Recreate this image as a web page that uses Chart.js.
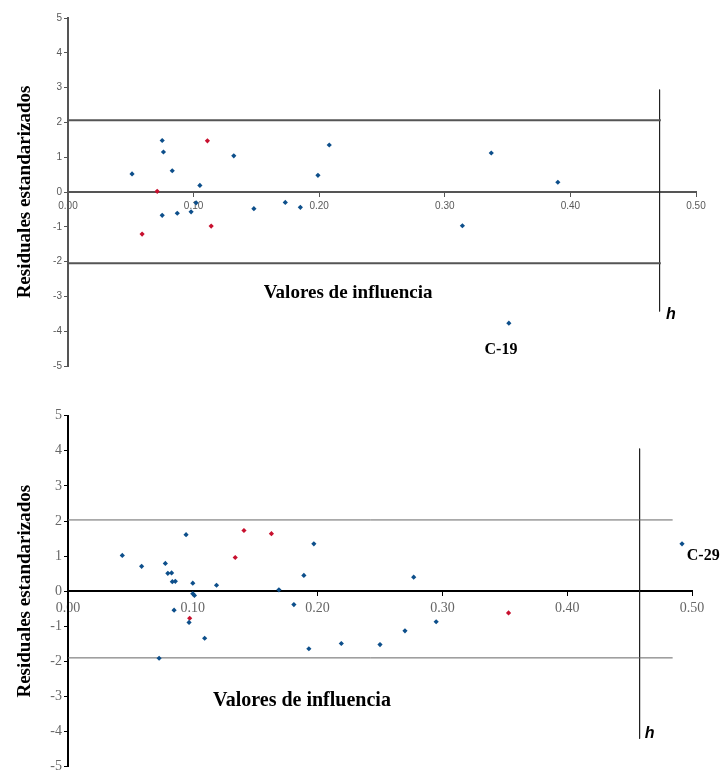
<!DOCTYPE html>
<html>
<head>
<meta charset="utf-8">
<script src="https://cdn.jsdelivr.net/npm/chart.js@4.4.0/dist/chart.umd.min.js"></script>
<style>
html, body { margin: 0; padding: 0; background: #fff; overflow: hidden; }
.box { position: absolute; left: 0; width: 723px; }
#top { top: 0; height: 386px; }
#bottom { top: 386px; height: 400px; }
</style>
</head>
<body>
<div class="box" id="top"><canvas id="chart1"></canvas></div>
<div class="box" id="bottom"><canvas id="chart2"></canvas></div>
<script>
// ---- data ----
const xTicks = ['0.00', '0.10', '0.20', '0.30', '0.40', '0.50'];
const yTicks = [-5, -4, -3, -2, -1, 0, 1, 2, 3, 4, 5];

// upper plot
const topBlueH = [0.051, 0.075, 0.076, 0.083, 0.105, 0.075, 0.087, 0.098, 0.102, 0.132, 0.148, 0.173, 0.185, 0.199, 0.208, 0.337, 0.390, 0.314, 0.351];
const topBlueR = [0.52, 1.48, 1.15, 0.61, 0.19, -0.67, -0.61, -0.57, -0.31, 1.04, -0.48, -0.30, -0.44, 0.48, 1.35, 1.12, 0.28, -0.97, -3.77];
const topRedH = [0.071, 0.059, 0.111, 0.114];
const topRedR = [0.02, -1.21, 1.47, -0.98];
const topLimits = [2.06, -2.05];
const topLimitEnd = 0.472;
const topH = 0.471;
const topHSpan = [2.94, -3.43];

// lower plot
const botBlueH = [0.0435, 0.059, 0.078, 0.080, 0.083, 0.0836, 0.086, 0.0946, 0.100, 0.100, 0.1013, 0.119, 0.085, 0.097, 0.1095, 0.073, 0.169, 0.181, 0.189, 0.197, 0.193, 0.219, 0.250, 0.270, 0.277, 0.295, 0.492];
const botBlueR = [1.02, 0.71, 0.79, 0.51, 0.52, 0.27, 0.28, 1.61, 0.23, -0.07, -0.12, 0.17, -0.54, -0.89, -1.34, -1.91, 0.04, -0.38, 0.45, 1.35, -1.64, -1.49, -1.52, -1.13, 0.40, -0.87, 1.35];
const botRedH = [0.0975, 0.134, 0.141, 0.163, 0.353];
const botRedR = [-0.77, 0.96, 1.73, 1.64, -0.62];
const botLimits = [2.03, -1.90];
const botLimitEnd = 0.4845;
const botH = 0.458;
const botHSpan = [4.06, -4.2];

const BLUE = '#0d4f8b';
const RED = '#c8102e';

const pts = (hs, rs) => hs.map((h, i) => ({ x: h, y: rs[i] }));

const notesPlugin = {
  id: 'notes',
  afterDraw(chart, args, opts) {
    const { ctx, scales: { x, y } } = chart;
    (opts.items || []).forEach(n => {
      ctx.save();
      ctx.font = n.font;
      ctx.fillStyle = '#000';
      ctx.textAlign = n.align || 'center';
      ctx.textBaseline = 'middle';
      ctx.fillText(n.text, x.getPixelForValue(n.x), y.getPixelForValue(n.y));
      ctx.restore();
    });
  }
};

function lineSet(points, color, width) {
  return {
    data: points,
    showLine: true,
    borderColor: color,
    borderWidth: width,
    pointRadius: 0,
    fill: false
  };
}

function makeChart(id, d) {
  const ctx = document.getElementById(id).getContext('2d');
  const datasets = [
    { data: pts(d.blueH, d.blueR), backgroundColor: BLUE, borderWidth: 0, pointStyle: 'rectRot', pointRadius: 2.6 },
    { data: pts(d.redH, d.redR), backgroundColor: RED, borderWidth: 0, pointStyle: 'rectRot', pointRadius: 2.6 },
    lineSet([{ x: 0, y: d.limits[0] }, { x: d.limitEnd, y: d.limits[0] }], d.limitColor, d.limitWidth),
    lineSet([{ x: 0, y: d.limits[1] }, { x: d.limitEnd, y: d.limits[1] }], d.limitColor, d.limitWidth),
    lineSet([{ x: d.h, y: d.hSpan[0] }, { x: d.h, y: d.hSpan[1] }], '#222', 1)
  ];
  return new Chart(ctx, {
    type: 'scatter',
    data: { datasets },
    options: {
      responsive: true,
      maintainAspectRatio: false,
      animation: false,
      layout: { padding: d.padding },
      plugins: {
        legend: { display: false },
        tooltip: { enabled: false },
        notes: { items: d.notes }
      },
      scales: {
        x: {
          type: 'linear',
          position: { y: 0 },
          min: 0,
          max: 0.5,
          afterFit: s => { s.height = 0; },
          afterBuildTicks: s => { s.ticks = xTicks.map(t => ({ value: parseFloat(t) })); },
          ticks: {
            callback: (v, i) => xTicks[i],
            font: d.tickFont,
            color: d.tickColor,
            padding: d.xPad,
            maxRotation: 0,
            autoSkip: false
          },
          grid: { drawOnChartArea: false, drawTicks: true, tickLength: 4, color: d.axisColor, lineWidth: 1 },
          border: { color: d.axisColor, width: 2 }
        },
        y: {
          type: 'linear',
          min: -5,
          max: 5,
          afterFit: s => { s.width = 68; },
          afterBuildTicks: s => { s.ticks = yTicks.map(v => ({ value: v })); },
          ticks: { font: d.tickFont, color: d.tickColor, padding: 2 },
          grid: { drawOnChartArea: false, drawTicks: true, tickLength: 4, color: d.axisColor, lineWidth: 1 },
          border: { color: d.axisColor, width: 2 },
          title: {
            display: true,
            text: 'Residuales estandarizados',
            color: '#000',
            font: { family: 'Liberation Serif', size: 19, weight: 'bold' },
            padding: { top: 14, bottom: 0 }
          }
        }
      }
    },
    plugins: [notesPlugin]
  });
}

makeChart('chart1', {
  blueH: topBlueH, blueR: topBlueR, redH: topRedH, redR: topRedR,
  limits: topLimits, limitEnd: topLimitEnd, limitColor: '#555', limitWidth: 2,
  h: topH, hSpan: topHSpan,
  padding: { top: 18, right: 27, bottom: 20, left: 0 },
  tickFont: { family: 'Liberation Sans', size: 10 },
  tickColor: '#595959',
  axisColor: '#555',
  xPad: 4,
  notes: [
    { text: 'Valores de influencia', x: 0.223, y: -2.91, font: 'bold 19px "Liberation Serif"' },
    { text: 'h', x: 0.480, y: -3.52, font: 'italic bold 16px "Liberation Sans"' },
    { text: 'C-19', x: 0.3447, y: -4.53, font: 'bold 16px "Liberation Serif"' }
  ]
});

makeChart('chart2', {
  blueH: botBlueH, blueR: botBlueR, redH: botRedH, redR: botRedR,
  limits: botLimits, limitEnd: botLimitEnd, limitColor: '#666', limitWidth: 1,
  h: botH, hSpan: botHSpan,
  padding: { top: 29.7, right: 31, bottom: 19.3, left: 0 },
  tickFont: { family: 'Liberation Serif', size: 14 },
  tickColor: '#666',
  axisColor: '#000',
  xPad: 5,
  notes: [
    { text: 'Valores de influencia', x: 0.1875, y: -3.13, font: 'bold 20px "Liberation Serif"' },
    { text: 'h', x: 0.466, y: -4.06, font: 'italic bold 16px "Liberation Sans"' },
    { text: 'C-29', x: 0.509, y: 1.02, font: 'bold 16px "Liberation Serif"' }
  ]
});
</script>
</body>
</html>
